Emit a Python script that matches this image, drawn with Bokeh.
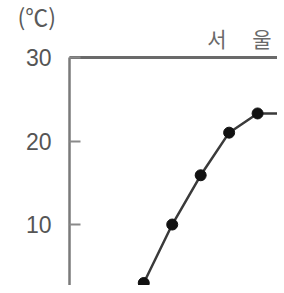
from bokeh.plotting import figure
from bokeh.models import Range1d, LinearAxis, FixedTicker, Title, ColumnDataSource
from bokeh.embed import file_html
from bokeh.resources import INLINE

# data (monthly mean temperature, Seoul)
months = [3, 4, 5, 6, 7, 8]
temps = [3.0, 10.0, 15.9, 21.0, 23.3, 23.3]
y_ticks = [10, 20, 30]
unit_label = "(℃)"
city = "서　 울"

src = ColumnDataSource(dict(x=months, y=temps))

p = figure(width=277, height=285, output_backend="svg", toolbar_location=None,
           x_range=Range1d(0.39, 7.70), y_range=Range1d(2.7, 30),
           x_axis_location=None, y_axis_location=None,
           min_border_left=69, min_border_right=0, min_border_top=57, min_border_bottom=0)
p.outline_line_color = None
p.xgrid.visible = False
p.ygrid.visible = False
p.background_fill_color = "white"

yax = LinearAxis(ticker=FixedTicker(ticks=y_ticks))
yax.axis_line_color = "#7a7a7a"
yax.axis_line_width = 2.5
yax.major_tick_in = 11
yax.major_tick_out = 0
yax.major_tick_line_color = "#8a8a8a"
yax.major_tick_line_width = 2
yax.minor_tick_line_color = None
yax.major_label_standoff = 18
yax.major_label_text_font = "Liberation Sans"
yax.major_label_text_font_size = "23px"
yax.major_label_text_color = "#555555"
p.add_layout(yax, "left")

top = LinearAxis(ticker=FixedTicker(ticks=[]))
top.axis_line_color = "#6a6a6a"
top.axis_line_width = 3
top.major_tick_line_color = None
top.minor_tick_line_color = None
top.major_label_text_font_size = "0px"
p.add_layout(top, "above")

p.line("x", "y", source=src, line_color="#3a3a3a", line_width=2.5)
p.scatter("x", "y", source=src, size=11, fill_color="#111111", line_color="#111111")

t1 = Title(text=city, align="right", offset=6, standoff=9,
           text_font="Noto Sans CJK KR", text_font_size="21px", text_font_style="normal",
           text_color="#6a6a6a")
p.add_layout(t1, "above")
t2 = Title(text=unit_label, align="left", offset=-52, standoff=-32,
           text_font="Noto Sans CJK KR", text_font_size="23px", text_font_style="normal",
           text_color="#5a5a5a")
p.add_layout(t2, "above")

open("out.html", "w").write(file_html(p, INLINE))
